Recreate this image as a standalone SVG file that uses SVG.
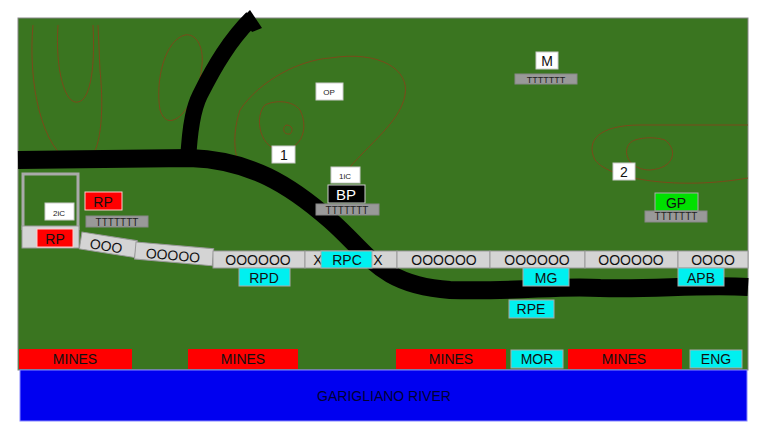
<svg xmlns="http://www.w3.org/2000/svg" width="770" height="433" viewBox="0 0 770 433">
<style>
text{font-family:"Liberation Sans",Arial,sans-serif;text-anchor:middle}
.c{fill:none;stroke:#7a4a1a;stroke-width:1}
.seg{fill:#d4d4d4;stroke:#999;stroke-width:1}
.t{font-size:14px;fill:#111}
.lbl{fill:#fff;stroke:#ccc}
.red{fill:#f00;stroke:#fcc}
.cy{fill:#00f0f0;stroke:#aaa}
.tt{fill:#999;stroke:#888}
</style>
<rect x="0" y="0" width="770" height="433" fill="#fff"/>
<rect x="18" y="18" width="730" height="352" fill="#3a7520" stroke="#888"/>
<g id="contours">
<path class="c" d="M33 25 C28 80 40 150 75 165 C100 170 105 120 100 70 L98 25"/>
<path class="c" d="M58 25 C55 70 65 105 78 102 C92 100 95 60 93 25"/>
<path class="c" d="M185 35 C165 40 155 80 160 110 C170 140 200 100 202 65 C204 45 195 33 185 35Z"/>
<path class="c" d="M240 110 C230 140 235 170 250 175 M330 58 C380 50 410 70 405 95 C400 125 360 150 340 180"/>
<path class="c" d="M240 110 C260 80 300 60 330 58"/>
<path class="c" d="M265 105 C255 115 258 145 278 150 C300 152 310 130 300 110 C292 100 275 100 265 105Z"/>
<path class="c" d="M286 125 C282 128 283 135 290 134 C294 130 292 125 286 125"/>
<path class="c" d="M748 125 L640 125 C600 125 585 140 595 160 C610 180 680 190 748 178"/>
<path class="c" d="M635 140 C620 145 625 170 650 170 C675 168 678 150 665 140 C655 137 645 137 635 140Z"/>
</g>
<g id="roads" fill="none" stroke="#000" stroke-width="16">
<path d="M18 160 L190 158 C250 160 290 185 330 220 C370 255 380 285 450 290 C520 292 560 285 600 288 C650 290 700 284 748 287" stroke-width="18"/>
<path d="M188 162 C190 120 195 105 200 95 C215 65 230 40 252 18"/>
</g>
<polygon points="242,18 250,10 262,28 252,32" fill="#000"/>
<g id="enclosure" fill="none" stroke="#aaa" stroke-width="3">
<path d="M23 230 V174 H78 V230"/>
</g>
<g id="strip">
<rect class="seg" x="22" y="226" width="57" height="22"/>
<g transform="rotate(9 82 232)"><rect class="seg" x="82" y="232" width="56" height="17"/><text class="t" x="108" y="247" font-size="15">OOO</text></g>
<g transform="rotate(5 136 242)"><rect class="seg" x="136" y="242" width="78" height="17"/><text class="t" x="174" y="257" font-size="15">OOOOO</text></g>
<rect class="seg" x="213" y="251" width="92" height="17"/><text class="t" x="258" y="265" font-size="15">OOOOOO</text>
<rect class="seg" x="305" y="251" width="92" height="17"/><text class="t" x="318" y="265" font-size="15">X</text><text class="t" x="378" y="265" font-size="15">X</text>
<rect class="seg" x="397" y="251" width="93" height="17"/><text class="t" x="444" y="265" font-size="15">OOOOOO</text>
<rect class="seg" x="490" y="251" width="95" height="17"/><text class="t" x="537" y="265" font-size="15">OOOOOO</text>
<rect class="seg" x="585" y="251" width="93" height="17"/><text class="t" x="631" y="265" font-size="15">OOOOOO</text>
<rect class="seg" x="678" y="251" width="70" height="17"/><text class="t" x="713" y="265" font-size="15">OOOO</text>
</g>
<g id="n-1"><rect class="lbl" x="272" y="146" width="23" height="17"/><text class="t" x="284" y="160">1</text></g>
<g id="n-2"><rect class="lbl" x="613" y="163" width="22" height="17"/><text class="t" x="624" y="177">2</text></g>
<g id="n-op"><rect class="lbl" x="316" y="83" width="27" height="17"/><text x="329" y="95" font-size="8" fill="#222">OP</text></g>
<g id="n-m"><rect class="lbl" x="536" y="52" width="22" height="17"/><text class="t" x="547" y="66">M</text><rect class="tt" x="515" y="74" width="62" height="10"/><text x="546" y="83" font-size="9" fill="#222">TTTTTTT</text></g>
<g id="n-1ic"><rect class="lbl" x="331" y="167" width="29" height="16"/><text x="345" y="179" font-size="8" fill="#222">1iC</text></g>
<g id="n-bp"><rect x="328" y="185" width="37" height="18" fill="#000" stroke="#ccc"/><text x="346" y="200" font-size="15" fill="#fff">BP</text><rect class="tt" x="316" y="204" width="63" height="11"/><text x="347" y="214" font-size="10" fill="#222">TTTTTTT</text></g>
<g id="n-2ic"><rect class="lbl" x="45" y="203" width="29" height="17"/><text x="59" y="216" font-size="8" fill="#222">2iC</text></g>
<g id="n-rp1"><rect class="red" x="37" y="229" width="36" height="18"/><text class="t" x="55" y="244">RP</text></g>
<g id="n-rp2"><rect class="red" x="85" y="192" width="37" height="18"/><text class="t" x="103" y="207">RP</text><rect class="tt" x="86" y="216" width="62" height="11"/><text x="117" y="226" font-size="10" fill="#222">TTTTTTT</text></g>
<g id="n-gp"><rect x="655" y="193" width="43" height="18" fill="#00e000" stroke="#aaa"/><text class="t" x="676" y="208">GP</text><rect class="tt" x="645" y="211" width="62" height="11"/><text x="676" y="220" font-size="10" fill="#222">TTTTTTT</text></g>
<g id="n-rpc"><rect class="cy" x="321" y="251" width="51" height="17"/><text class="t" x="347" y="265">RPC</text></g>
<g id="n-rpd"><rect class="cy" x="239" y="268" width="51" height="18"/><text class="t" x="264" y="283">RPD</text></g>
<g id="n-mg"><rect class="cy" x="523" y="268" width="46" height="18"/><text class="t" x="546" y="283">MG</text></g>
<g id="n-apb"><rect class="cy" x="678" y="268" width="46" height="18"/><text class="t" x="701" y="283">APB</text></g>
<g id="n-rpe"><rect class="cy" x="509" y="300" width="45" height="18"/><text class="t" x="531" y="314">RPE</text></g>
<g id="mines">
<rect x="19" y="349" width="113" height="20" fill="#f00"/><text class="t" x="75" y="364">MINES</text>
<rect x="188" y="349" width="110" height="20" fill="#f00"/><text class="t" x="243" y="364">MINES</text>
<rect x="396" y="349" width="110" height="20" fill="#f00"/><text class="t" x="451" y="364">MINES</text>
<rect class="cy" x="511" y="350" width="52" height="18"/><text class="t" x="537" y="364">MOR</text>
<rect x="568" y="349" width="114" height="20" fill="#f00"/><text class="t" x="624" y="364">MINES</text>
<rect class="cy" x="690" y="350" width="52" height="18"/><text class="t" x="716" y="364">ENG</text>
</g>
<g id="river"><rect x="20" y="370" width="727" height="51" fill="#0000f0" stroke="#88f"/><text x="384" y="401" font-size="14" fill="#000033">GARIGLIANO RIVER</text></g>
</svg>
